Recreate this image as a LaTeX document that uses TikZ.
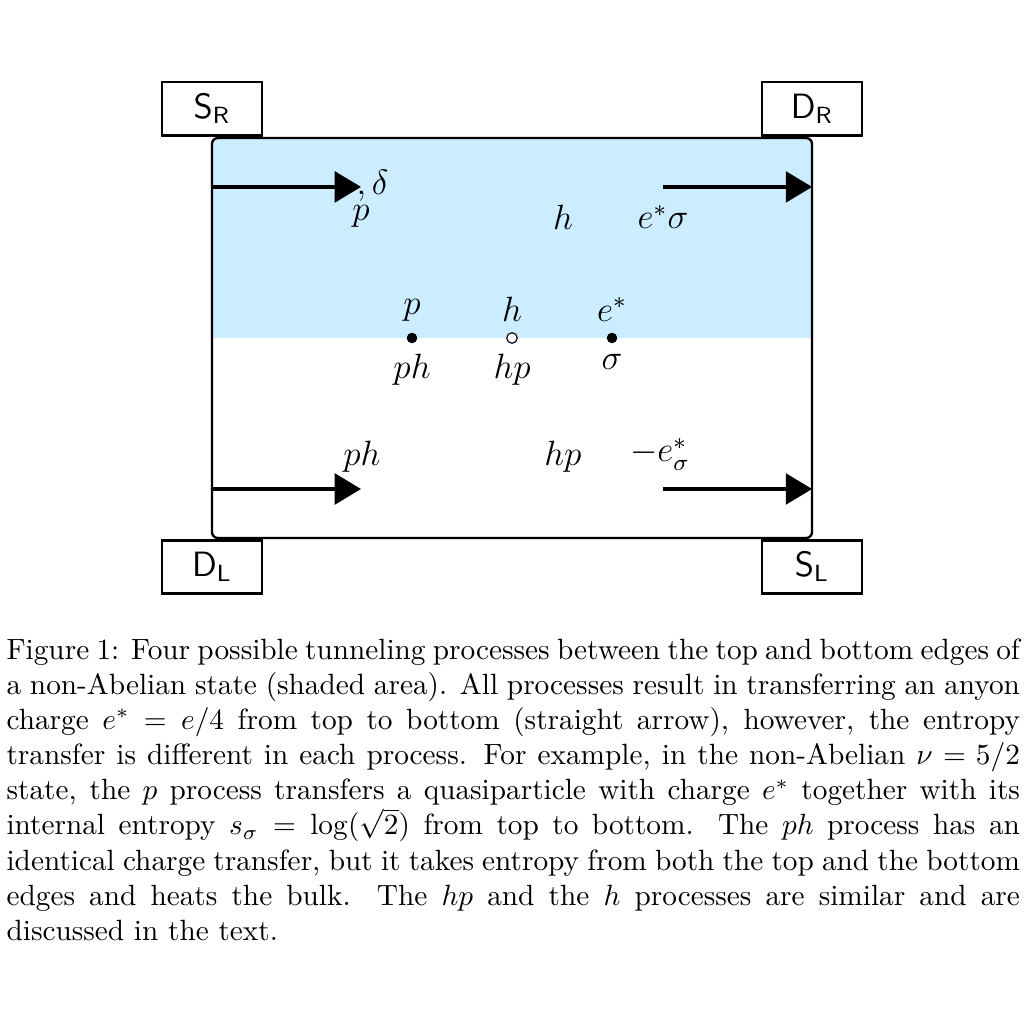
\documentclass[tikz,border=0pt]{standalone}
\usepackage{amsmath,amssymb}
\usepackage{tikz}
\usetikzlibrary{arrows.meta, positioning, calc}
\usepackage{xcolor}
\definecolor{bulkblue}{RGB}{204,236,255}
\tikzset{
  lead/.style={draw, thick, fill=white, minimum width=1.2cm, minimum height=0.64cm, inner sep=0pt},
  tunnel/.style={-{Triangle[length=9pt, width=10.5pt]}, very thick},
  qpdot/.style={circle, fill=black, inner sep=0pt, minimum size=3.6pt},
  qhdot/.style={circle, draw=black, fill=white, inner sep=0pt, minimum size=3.6pt},
  tag/.style={anchor=base, inner sep=0pt}
}

\begin{document}
\begin{tikzpicture}[scale=1.2, every node/.style={font=\large}]
\useasboundingbox (-2.12,-4.86) rectangle (8.12,5.38);
% bulk: shaded top half
\begin{scope}
\clip[rounded corners=2pt] (0,0) rectangle (6,4);
\fill[bulkblue] (0,2) rectangle (6,4);
\end{scope}
\draw[thick, rounded corners=2pt] (0,0) rectangle (6,4);
% contacts
\node[lead] (SR) at (0,4.29) {$\mathsf{S}_\mathsf{R}$};
\node[lead] (DR) at (6,4.29) {$\mathsf{D}_\mathsf{R}$};
\node[lead] (DL) at (0,-0.29) {$\mathsf{D}_\mathsf{L}$};
\node[lead] (SL) at (6,-0.29) {$\mathsf{S}_\mathsf{L}$};
% top edge
\coordinate (topIn) at (0,3.51);
\coordinate (topTip) at (1.49,3.51);
\coordinate (topOut) at (4.51,3.51);
\coordinate (topEnd) at (6,3.51);
\draw[tunnel] (topIn) -- (topTip);
\draw[tunnel] (topOut) -- (topEnd);
\node[anchor=base west, inner sep=0pt] (delta) at (1.44,3.43) {$,\delta$};
\node[tag] (pTop) at (1.49,3.17) {$p$};
\node[tag] (hTop) at (3.51,3.08) {$h$};
\node[tag] (eTop) at (4.51,3.09) {$e^*\sigma$};
% tunneling points
\node[qpdot, label=above:$p$, label=below:$ph$] (pDot) at (2,2) {};
\node[qhdot, label=above:$h$, label=below:$hp$] (hDot) at (3,2) {};
\node[qpdot, label=above:$e^*$, label=below:$\sigma$] (eDot) at (4,2) {};
% bottom edge
\coordinate (botIn) at (0,0.49);
\coordinate (botTip) at (1.49,0.49);
\coordinate (botOut) at (4.51,0.49);
\coordinate (botEnd) at (6,0.49);
\draw[tunnel] (botIn) -- (botTip);
\draw[tunnel] (botOut) -- (botEnd);
\node[tag] (phBot) at (1.5,0.72) {$ph$};
\node[tag] (hpBot) at (3.51,0.72) {$hp$};
\node[tag] (eBot) at (4.48,0.76) {$-e^*_\sigma$};
% caption
\node[anchor=north west, inner sep=0pt, text width=346pt, align=justify, font=\normalsize] (caption) at (-2.06,-1.0) {\noindent
Figure 1: Four possible tunneling processes between the top and bottom edges of\linebreak
a non-Abelian state (shaded area). All processes result in transferring an anyon\linebreak
charge $e^* = e/4$ from top to bottom (straight arrow), however, the entropy\linebreak
transfer is different in each process. For example, in the non-Abelian $\nu = 5/2$\linebreak
state, the $p$ process transfers a quasiparticle with charge $e^*$ together with its\linebreak
internal entropy $s_\sigma = \log(\sqrt{2})$ from top to bottom. The $ph$ process has an\linebreak
identical charge transfer, but it takes entropy from both the top and the bottom\linebreak
edges and heats the bulk. The $hp$ and the $h$ processes are similar and are\linebreak
discussed in the text.};
\end{tikzpicture}
\end{document}
